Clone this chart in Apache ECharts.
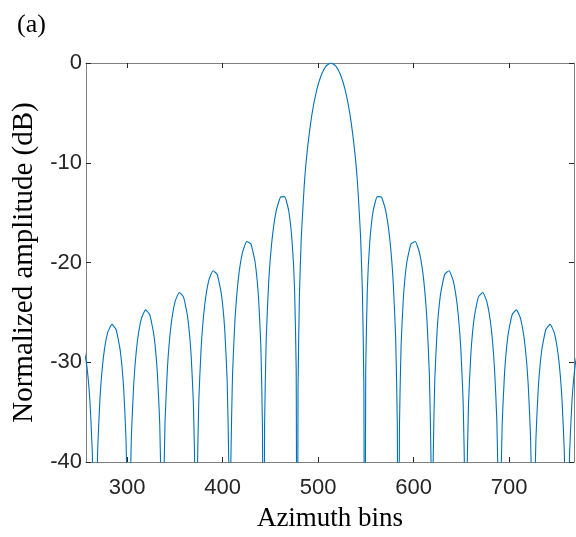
<!DOCTYPE html>
<html>
<head>
<meta charset="utf-8">
<script src="https://cdn.jsdelivr.net/npm/echarts@6/dist/echarts.min.js"></script>
<style>
html,body{margin:0;padding:0;background:#fff;}
#main{width:576px;height:537px;}
</style>
</head>
<body>
<div id="main"></div>
<script>
// azimuth bin positions (left edge -> right edge)
var azimuthBins = [
    253.2, 257.6, 261.1, 263.6, 265.3, 266.4,
    267.5, 269.2, 271.7, 275.2, 279.6, 284.1, 288.5, 292.9, 296.4, 298.9, 300.6, 301.7,
    302.8, 304.5, 307.0, 310.5, 314.9, 319.4, 323.8, 328.2, 331.7, 334.2, 335.9, 337.0,
    338.1, 339.8, 342.3, 345.8, 350.2, 354.7, 359.1, 363.5, 367.0, 369.5, 371.2, 372.3,
    373.4, 375.1, 377.6, 381.1, 385.5, 390.0, 394.4, 398.8, 402.3, 404.8, 406.5, 407.6,
    408.7, 410.4, 412.9, 416.4, 420.8, 425.3, 429.7, 434.1, 437.6, 440.1, 441.8, 442.9,
    444.0, 445.7, 448.2, 451.7, 456.1, 460.6, 465.0, 469.4, 472.9, 475.4, 477.1, 478.2,
    479.0, 480.5, 482.5, 485.5, 488.5, 493.5, 498.5, 503.5, 508.5, 513.5,
    518.5, 523.5, 528.5, 533.5, 538.5, 541.5, 544.5, 546.5, 548.0, 548.8,
    549.9, 551.6, 554.1, 557.6, 562.0, 566.5, 570.9, 575.3, 578.8, 581.3, 583.0, 584.1,
    585.2, 586.9, 589.4, 592.9, 597.3, 601.8, 606.2, 610.6, 614.1, 616.6, 618.3, 619.4,
    620.5, 622.2, 624.7, 628.2, 632.6, 637.1, 641.5, 645.9, 649.4, 651.9, 653.6, 654.7,
    655.8, 657.5, 660.0, 663.5, 667.9, 672.4, 676.8, 681.2, 684.7, 687.2, 688.9, 690.0,
    691.1, 692.8, 695.3, 698.8, 703.2, 707.7, 712.1, 716.5, 720.0, 722.5, 724.2, 725.3,
    726.4, 728.1, 730.6, 734.1, 738.5, 743.0, 747.4, 751.8, 755.3, 757.8, 759.5, 760.6,
    761.7, 763.4, 765.9, 769.4, 773.8
];
// normalized amplitude (dB) at those bins; nulls drop far below -40
var amplitudeDb = [
    -27.99, -30.16, -33.89, -39.03, -47.41, -70,
    -47.34, -38.84, -33.52, -29.54, -27.06, -26.20, -26.72, -28.87, -32.58, -37.71, -46.08, -70,
    -45.99, -37.48, -32.15, -28.15, -25.64, -24.75, -25.24, -27.36, -31.04, -36.15, -44.50, -70,
    -44.40, -35.87, -30.52, -26.49, -23.94, -23.01, -23.45, -25.52, -29.16, -34.25, -42.58, -70,
    -42.45, -33.90, -28.51, -24.43, -21.82, -20.82, -21.20, -23.19, -26.77, -31.80, -40.10, -70,
    -39.93, -31.34, -25.90, -21.74, -19.02, -17.90, -18.15, -20.00, -23.45, -28.39, -36.62, -70,
    -36.36, -27.70, -22.15, -17.81, -14.85, -13.46, -13.40, -14.89, -18.02, -22.70, -30.73, -70,
    -32.7, -23.2, -17.37, -12.31, -8.96, -5.20, -2.75, -1.18, -0.29, 0,
    -0.29, -1.18, -2.75, -5.20, -8.96, -12.31, -17.37, -23.2, -32.7, -70,
    -30.73, -22.70, -18.02, -14.89, -13.40, -13.46, -14.85, -17.81, -22.15, -27.70, -36.36, -70,
    -36.62, -28.39, -23.45, -20.00, -18.15, -17.90, -19.02, -21.74, -25.90, -31.34, -39.93, -70,
    -40.10, -31.80, -26.77, -23.19, -21.20, -20.82, -21.82, -24.43, -28.51, -33.90, -42.45, -70,
    -42.58, -34.25, -29.16, -25.52, -23.45, -23.01, -23.94, -26.49, -30.52, -35.87, -44.40, -70,
    -44.50, -36.15, -31.04, -27.36, -25.24, -24.75, -25.64, -28.15, -32.15, -37.48, -45.99, -70,
    -46.08, -37.71, -32.58, -28.87, -26.72, -26.20, -27.06, -29.54, -33.52, -38.84, -47.34, -70,
    -47.41, -39.03, -33.89, -30.16, -27.99
];
var xTicks = [300, 400, 500, 600, 700];
var yTicks = [0, -10, -20, -30, -40];

var axisColor = '#808080';
var labelFont = '"Liberation Sans", Arial, sans-serif';
var titleFont = '"Liberation Serif", "Times New Roman", serif';

var chart = echarts.init(document.getElementById('main'), null, {renderer: 'canvas'});

function xAxisOf(pos, withLabels){
    return {
        type: 'value',
        position: pos,
        min: 257,
        max: 768,
        name: withLabels ? 'Azimuth bins' : '',
        nameLocation: 'middle',
        nameGap: 43,
        nameTextStyle: {fontFamily: titleFont, fontSize: 27, color: '#000'},
        axisLine: {show: true, onZero: false, lineStyle: {color: axisColor, width: 1}},
        axisTick: {show: true, inside: true, length: 5, customValues: xTicks, lineStyle: {color: '#262626'}},
        axisLabel: {show: withLabels, customValues: xTicks, margin: 15, color: '#262626', fontFamily: labelFont, fontSize: 22},
        splitLine: {show: false}
    };
}
function yAxisOf(pos, withLabels){
    return {
        type: 'value',
        position: pos,
        min: -40,
        max: 0,
        interval: 10,
        name: withLabels ? 'Normalized amplitude (dB)' : '',
        nameLocation: 'middle',
        nameGap: 39,
        nameRotate: 90,
        nameTextStyle: {fontFamily: titleFont, fontSize: 29, color: '#000'},
        axisLine: {show: true, onZero: false, lineStyle: {color: axisColor, width: 1}},
        axisTick: {show: true, inside: true, length: 5, customValues: yTicks, lineStyle: {color: '#262626'}},
        axisLabel: {show: withLabels, customValues: yTicks, margin: 4, color: '#262626', fontFamily: labelFont, fontSize: 22},
        splitLine: {show: false}
    };
}

var option = {
    animation: false,
    backgroundColor: '#fff',
    title: {
        text: '(a)',
        left: 12,
        top: 7,
        textStyle: {fontFamily: titleFont, fontSize: 26, fontWeight: 'normal', color: '#000'}
    },
    grid: {left: 86, right: 2, top: 63, bottom: 75, containLabel: false},
    xAxis: [xAxisOf('bottom', true), xAxisOf('top', false)],
    yAxis: [yAxisOf('left', true), yAxisOf('right', false)],
    series: [
        {
            type: 'line',
            xAxisIndex: 0,
            yAxisIndex: 0,
            data: azimuthBins.map(function(x, i){ return [x, amplitudeDb[i]]; }),
            showSymbol: false,
            smooth: 0.15,
            clip: true,
            lineStyle: {color: '#0072BD', width: 1.1},
            itemStyle: {color: '#0072BD'}
        }
    ]
};
chart.setOption(option);
</script>
</body>
</html>
